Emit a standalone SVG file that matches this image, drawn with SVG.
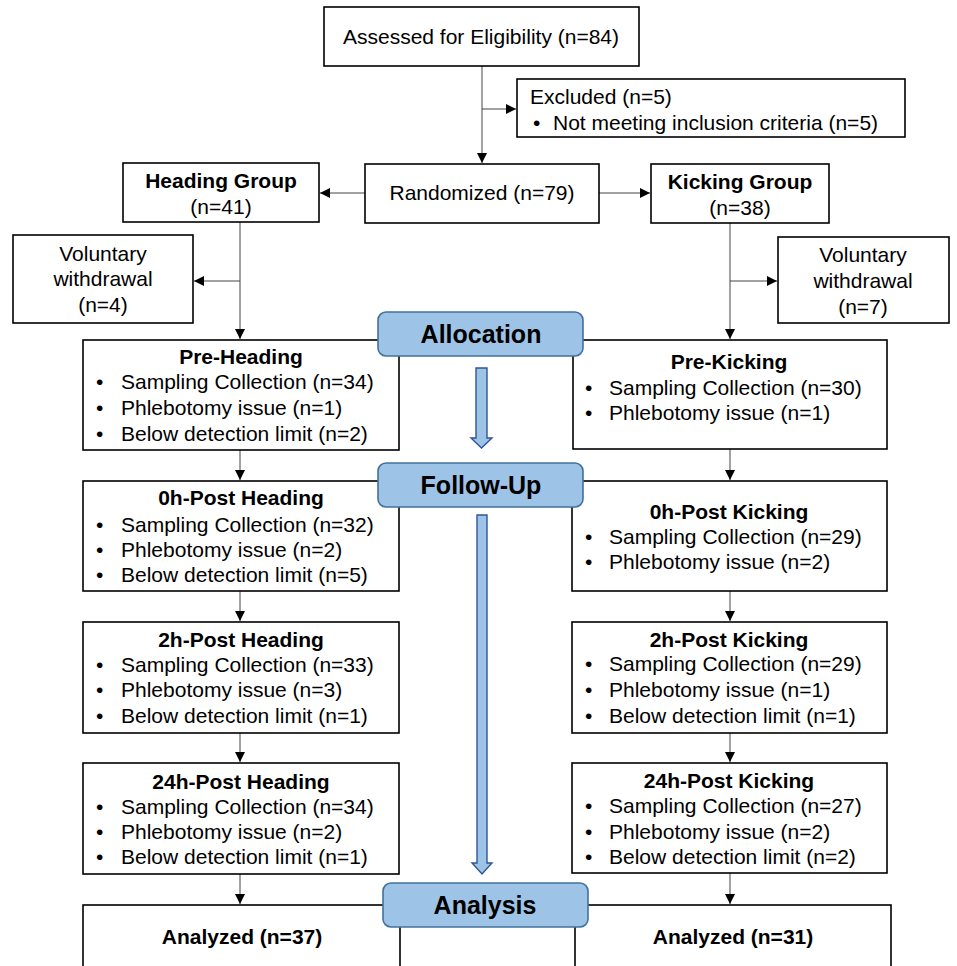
<svg xmlns="http://www.w3.org/2000/svg" width="957" height="966" viewBox="0 0 957 966">
<defs>
<marker id="ah" viewBox="0 0 10 10" refX="10" refY="5" markerWidth="10" markerHeight="10" markerUnits="userSpaceOnUse" orient="auto">
<path d="M0,0 L10,5 L0,10 Z" fill="#000"/>
</marker>
<style>
.box{fill:#fff;stroke:#000;stroke-width:1.6}
.lbl{fill:#9DC3E6;stroke:#41719C;stroke-width:1.6}
.bar{fill:#9DC3E6;stroke:#2F5597;stroke-width:1.4}
.c{fill:none;stroke:#444;stroke-width:1}
text{font-family:"Liberation Sans",Arial,sans-serif;font-size:21px;fill:#000}
.b{font-weight:bold}
.m{text-anchor:middle}
.big{font-size:25px;font-weight:bold}
</style>
</defs>
<rect width="957" height="966" fill="#fff"/>

<g id="connectors">
<line class="c" x1="482" y1="66" x2="482" y2="163" marker-end="url(#ah)"/>
<line class="c" x1="482" y1="109" x2="516" y2="109" marker-end="url(#ah)"/>
<line class="c" x1="365" y1="193" x2="320" y2="193" marker-end="url(#ah)"/>
<line class="c" x1="599" y1="193" x2="650" y2="193" marker-end="url(#ah)"/>
<line class="c" x1="240" y1="222" x2="240" y2="339" marker-end="url(#ah)"/>
<line class="c" x1="240" y1="281" x2="194" y2="281" marker-end="url(#ah)"/>
<line class="c" x1="730" y1="223" x2="730" y2="339" marker-end="url(#ah)"/>
<line class="c" x1="730" y1="281" x2="777" y2="281" marker-end="url(#ah)"/>
<line class="c" x1="240" y1="450" x2="240" y2="480" marker-end="url(#ah)"/>
<line class="c" x1="240" y1="591" x2="240" y2="621" marker-end="url(#ah)"/>
<line class="c" x1="240" y1="733" x2="240" y2="762" marker-end="url(#ah)"/>
<line class="c" x1="240" y1="874" x2="240" y2="904" marker-end="url(#ah)"/>
<line class="c" x1="730" y1="449" x2="730" y2="480" marker-end="url(#ah)"/>
<line class="c" x1="730" y1="591" x2="730" y2="621" marker-end="url(#ah)"/>
<line class="c" x1="730" y1="733" x2="730" y2="762" marker-end="url(#ah)"/>
<line class="c" x1="730" y1="873" x2="730" y2="904" marker-end="url(#ah)"/>
</g>

<g id="assessed">
<rect class="box" x="324" y="7" width="315" height="59"/>
<text class="m" x="481" y="44">Assessed for Eligibility (n=84)</text>
</g>
<g id="excluded">
<rect class="box" x="517" y="79" width="388" height="58"/>
<text x="530" y="104">Excluded (n=5)</text>
<text x="533" y="130">•</text>
<text x="553" y="130">Not meeting inclusion criteria (n=5)</text>
</g>
<g id="randomized">
<rect class="box" x="365" y="164" width="234" height="59"/>
<text class="m" x="482" y="200">Randomized (n=79)</text>
</g>
<g id="heading-group">
<rect class="box" x="123" y="163" width="196" height="59"/>
<text class="m b" x="221" y="188">Heading Group</text>
<text class="m" x="221" y="214">(n=41)</text>
</g>
<g id="kicking-group">
<rect class="box" x="651" y="164" width="178" height="59"/>
<text class="m b" x="740" y="189">Kicking Group</text>
<text class="m" x="740" y="215">(n=38)</text>
</g>
<g id="withdraw-heading">
<rect class="box" x="13" y="235" width="180" height="88"/>
<text class="m" x="103" y="261">Voluntary</text>
<text class="m" x="103" y="286">withdrawal</text>
<text class="m" x="103" y="312">(n=4)</text>
</g>
<g id="withdraw-kicking">
<rect class="box" x="778" y="237" width="171" height="86"/>
<text class="m" x="863" y="262">Voluntary</text>
<text class="m" x="863" y="288">withdrawal</text>
<text class="m" x="863" y="314">(n=7)</text>
</g>

<g id="pre-heading">
<rect class="box" x="83" y="340" width="316" height="110"/>
<text class="m b" x="241" y="364">Pre-Heading</text>
<text x="96" y="389">•</text><text x="121" y="389">Sampling Collection (n=34)</text>
<text x="96" y="415">•</text><text x="121" y="415">Phlebotomy issue (n=1)</text>
<text x="96" y="441">•</text><text x="121" y="441">Below detection limit (n=2)</text>
</g>
<g id="pre-kicking">
<rect class="box" x="573" y="340" width="314" height="109"/>
<text class="m b" x="729" y="369">Pre-Kicking</text>
<text x="585" y="395">•</text><text x="609" y="395">Sampling Collection (n=30)</text>
<text x="585" y="420">•</text><text x="609" y="420">Phlebotomy issue (n=1)</text>
</g>

<g id="post0-heading">
<rect class="box" x="83" y="481" width="316" height="110"/>
<text class="m b" x="241" y="505">0h-Post Heading</text>
<text x="96" y="532">•</text><text x="121" y="532">Sampling Collection (n=32)</text>
<text x="96" y="557">•</text><text x="121" y="557">Phlebotomy issue (n=2)</text>
<text x="96" y="582">•</text><text x="121" y="582">Below detection limit (n=5)</text>
</g>
<g id="post0-kicking">
<rect class="box" x="572" y="481" width="315" height="110"/>
<text class="m b" x="729" y="519">0h-Post Kicking</text>
<text x="585" y="544">•</text><text x="609" y="544">Sampling Collection (n=29)</text>
<text x="585" y="569">•</text><text x="609" y="569">Phlebotomy issue (n=2)</text>
</g>

<g id="post2-heading">
<rect class="box" x="83" y="622" width="316" height="111"/>
<text class="m b" x="241" y="647">2h-Post Heading</text>
<text x="96" y="672">•</text><text x="121" y="672">Sampling Collection (n=33)</text>
<text x="96" y="697">•</text><text x="121" y="697">Phlebotomy issue (n=3)</text>
<text x="96" y="723">•</text><text x="121" y="723">Below detection limit (n=1)</text>
</g>
<g id="post2-kicking">
<rect class="box" x="572" y="622" width="315" height="111"/>
<text class="m b" x="729" y="647">2h-Post Kicking</text>
<text x="585" y="671">•</text><text x="609" y="671">Sampling Collection (n=29)</text>
<text x="585" y="697">•</text><text x="609" y="697">Phlebotomy issue (n=1)</text>
<text x="585" y="723">•</text><text x="609" y="723">Below detection limit (n=1)</text>
</g>

<g id="post24-heading">
<rect class="box" x="83" y="763" width="316" height="111"/>
<text class="m b" x="241" y="789">24h-Post Heading</text>
<text x="96" y="814">•</text><text x="121" y="814">Sampling Collection (n=34)</text>
<text x="96" y="839">•</text><text x="121" y="839">Phlebotomy issue (n=2)</text>
<text x="96" y="864">•</text><text x="121" y="864">Below detection limit (n=1)</text>
</g>
<g id="post24-kicking">
<rect class="box" x="572" y="763" width="315" height="110"/>
<text class="m b" x="729" y="788">24h-Post Kicking</text>
<text x="585" y="813">•</text><text x="609" y="813">Sampling Collection (n=27)</text>
<text x="585" y="839">•</text><text x="609" y="839">Phlebotomy issue (n=2)</text>
<text x="585" y="864">•</text><text x="609" y="864">Below detection limit (n=2)</text>
</g>

<g id="analyzed-heading">
<rect class="box" x="83" y="905" width="317" height="80"/>
<text class="m b" x="242" y="944">Analyzed (n=37)</text>
</g>
<g id="analyzed-kicking">
<rect class="box" x="575" y="905" width="316" height="80"/>
<text class="m b" x="733" y="944">Analyzed (n=31)</text>
</g>

<g id="phase-arrows">
<path class="bar" d="M476,368 H487 V438 H492 L481.5,448 L471,438 H476 Z"/>
<path class="bar" d="M477,515 H487 V863 H492 L482,874 L472,863 H477 Z"/>
</g>

<g id="allocation">
<rect class="lbl" x="378" y="312" width="205" height="44" rx="8"/>
<text class="m big" x="481" y="343">Allocation</text>
</g>
<g id="follow-up">
<rect class="lbl" x="378" y="463" width="205" height="44" rx="8"/>
<text class="m big" x="481" y="494">Follow-Up</text>
</g>
<g id="analysis">
<rect class="lbl" x="383" y="883" width="205" height="44" rx="8"/>
<text class="m big" x="485" y="914">Analysis</text>
</g>
</svg>
